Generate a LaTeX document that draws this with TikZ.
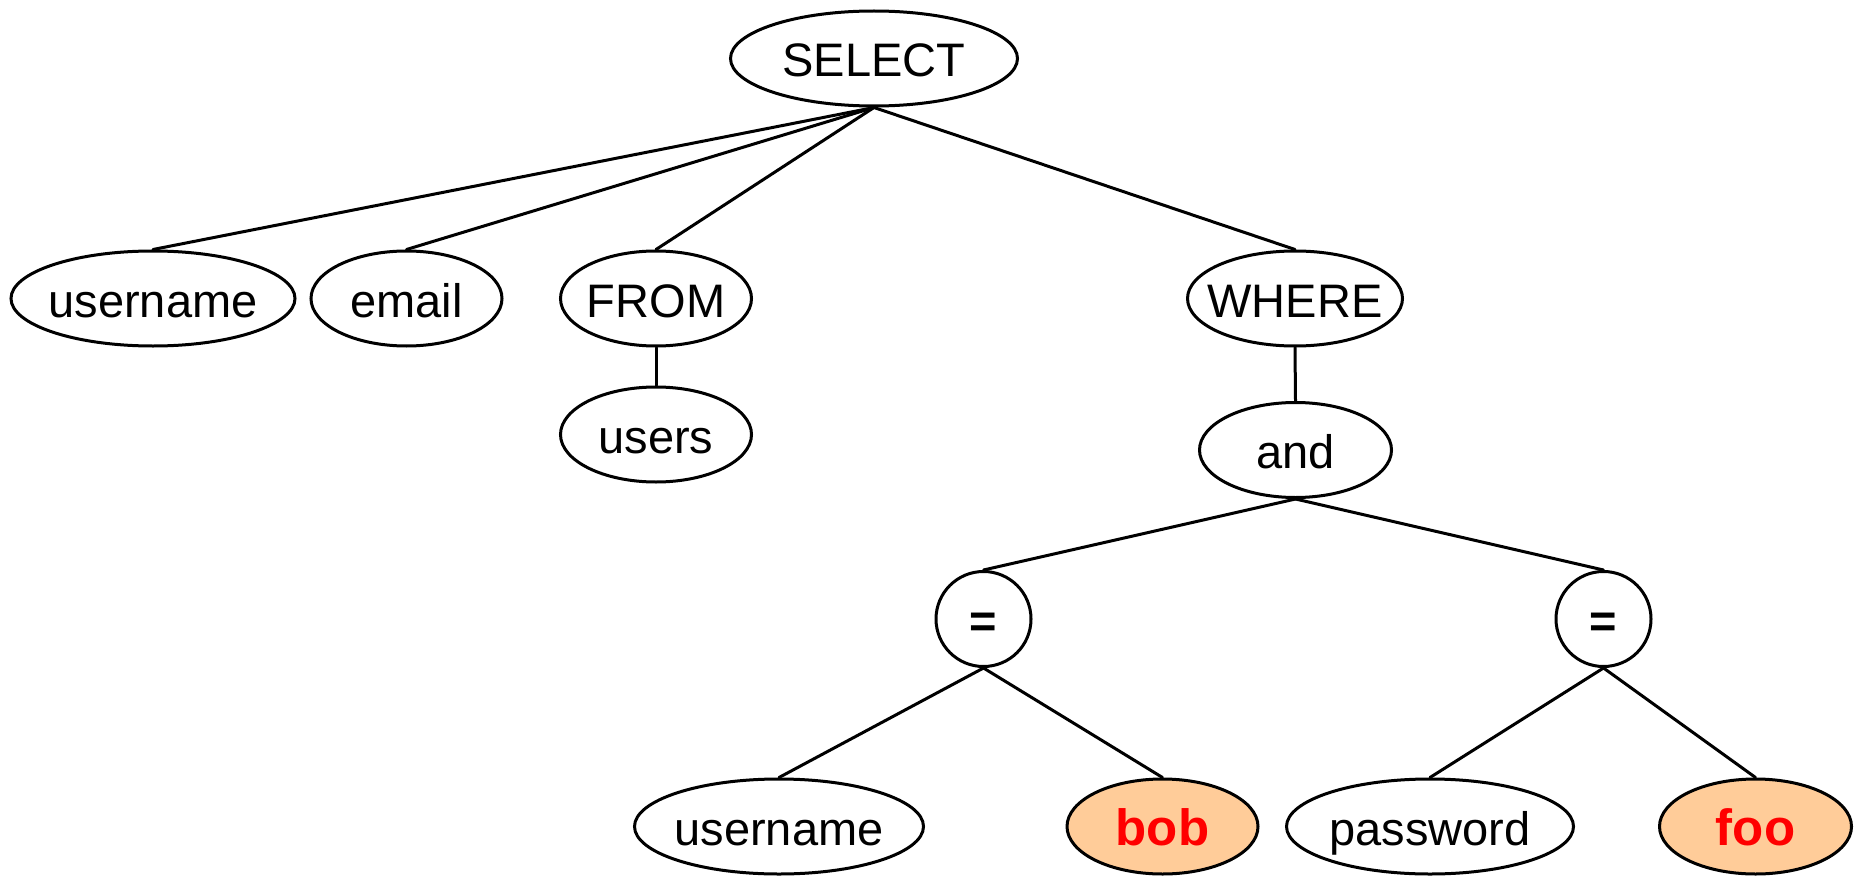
\documentclass[tikz,border=0pt]{standalone}
\usepackage{fontspec}
\setmainfont{Liberation Sans}
\usetikzlibrary{shapes.geometric}
\definecolor{hilite}{HTML}{FFCC99}
\definecolor{hitext}{HTML}{FF0000}
% zero-width label so the shape keeps its given size
\newcommand{\lbl}[1]{\makebox[0pt]{#1}}
\tikzset{
  every picture/.style={x=1pt,y=-1pt},
  tnode/.style={ellipse,draw=black,line width=3pt,inner sep=0pt,
    minimum height=95pt,text height=40pt,text depth=3pt,
    font=\fontsize{47}{50}\selectfont},
  opnode/.style={circle,draw=black,line width=3pt,inner sep=0pt,
    minimum size=95pt,text height=40pt,text depth=3pt,
    font=\fontsize{47}{50}\selectfont\bfseries},
  value/.style={tnode,fill=hilite,text=hitext,font=\fontsize{51}{54}\selectfont\bfseries},
  link/.style={line width=3pt,line cap=round}
}
\begin{document}
\begin{tikzpicture}
\useasboundingbox (0,0) rectangle (1855,880);
% root and its children
\node[tnode,minimum width=287pt] (select) at (874,58.5) {\lbl{SELECT}};
\node[tnode,minimum width=284pt] (user1) at (153,298.5) {\lbl{username}};
\node[tnode,minimum width=191pt] (email) at (406.5,298.5) {\lbl{email}};
\node[tnode,minimum width=191pt] (from) at (656,298.5) {\lbl{FROM}};
\node[tnode,minimum width=215pt] (where) at (1295,298.5) {\lbl{WHERE}};
\node[tnode,minimum width=191pt] (users) at (656,434.5) {\lbl{users}};
\node[tnode,minimum width=192pt] (and) at (1295.5,450) {\lbl{and}};
% comparisons
\node[opnode] (eqa) at (983.5,619) {\lbl{=}};
\node[opnode] (eqb) at (1603.5,619) {\lbl{=}};
% leaves
\node[tnode,minimum width=289pt] (user2) at (779,826.5) {\lbl{username}};
\node[value,minimum width=191pt] (bob) at (1162.5,826.5) {\lbl{bob}};
\node[tnode,minimum width=287pt] (pass) at (1430,826.5) {\lbl{password}};
\node[value,minimum width=192pt] (foo) at (1755.5,826.5) {\lbl{foo}};
% edges
\foreach \p/\c in {select/user1,select/email,select/from,select/where,
  from/users,where/and,and/eqa,and/eqb,eqa/user2,eqa/bob,eqb/pass,eqb/foo}
  \draw[link] (\p.south) -- (\c.north);
\end{tikzpicture}
\end{document}
